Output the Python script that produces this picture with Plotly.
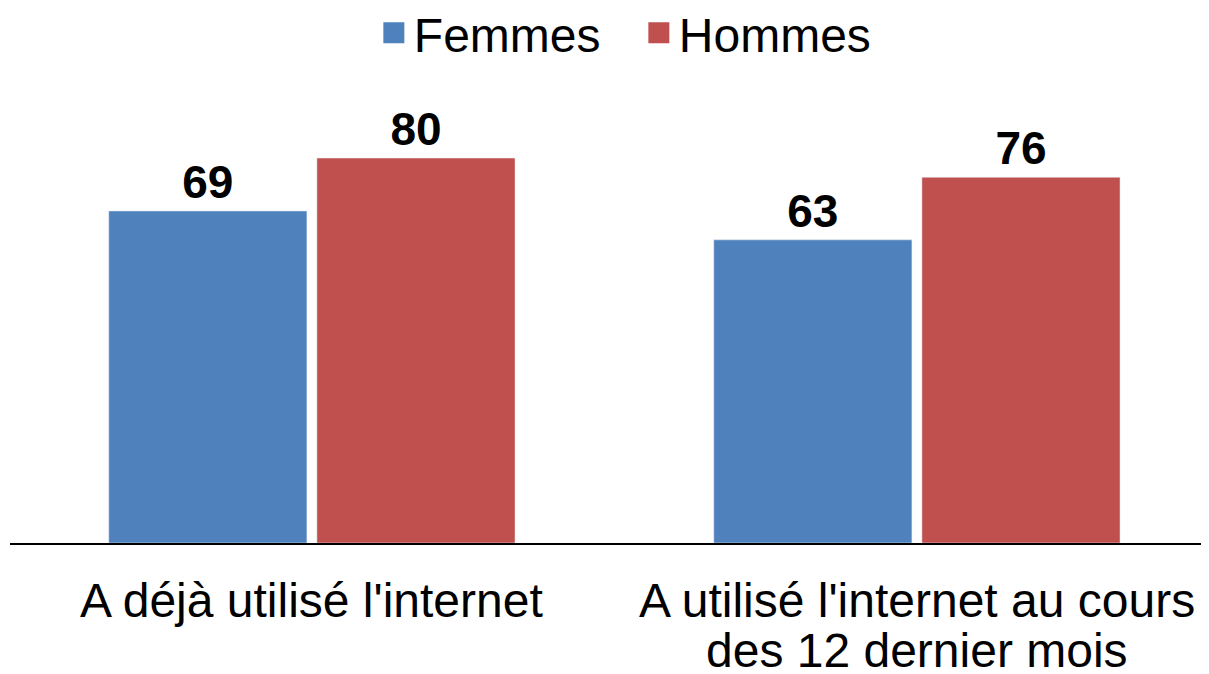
import plotly.graph_objects as go

categories = ["A déjà utilisé l'internet", "A utilisé l'internet au cours des 12 dernier mois"]
category_lines = [["A déjà utilisé l'internet"], ["A utilisé l'internet au cours", "des 12 dernier mois"]]
femmes = [69, 63]
hommes = [80, 76]

BLUE = "#4F81BD"
RED = "#C0504D"
FONT = "Liberation Sans, Arial, sans-serif"

fig = go.Figure()
fig.add_trace(go.Bar(
    name="Femmes", x=categories, y=femmes, marker_color=BLUE,
    text=femmes, textposition="outside", cliponaxis=False,
    textfont=dict(family=FONT, size=46, color="black", weight="bold"),
    showlegend=False,
))
fig.add_trace(go.Bar(
    name="Hommes", x=categories, y=hommes, marker_color=RED,
    text=hommes, textposition="outside", cliponaxis=False,
    textfont=dict(family=FONT, size=46, color="black", weight="bold"),
    showlegend=False,
))
# legend proxies with larger square swatches
for name, col in [("Femmes", BLUE), ("Hommes", RED)]:
    fig.add_trace(go.Scatter(
        name=name, x=[None], y=[None], mode="markers",
        marker=dict(symbol="square", size=25, color=col, line=dict(color=col, width=5)),
        showlegend=True,
    ))

# category labels, one annotation per line for tight line spacing
line_y = [-0.1226, -0.2283]
for cat, lines in zip(categories, category_lines):
    for i, txt in enumerate(lines):
        fig.add_annotation(
            x=cat, xref="x", y=line_y[i], yref="paper",
            text=txt, showarrow=False, xanchor="center", yanchor="middle",
            font=dict(family=FONT, size=48, color="black"),
        )

fig.update_layout(
    width=1209, height=674,
    margin=dict(l=2, r=0, t=62, b=139, autoexpand=False),
    paper_bgcolor="white", plot_bgcolor="white",
    barmode="group", bargap=0.312, bargroupgap=0.048,
    font=dict(family=FONT, color="black"),
    showlegend=True,
    legend=dict(
        orientation="h", x=0.521, xanchor="center", y=1.078, yanchor="middle",
        font=dict(family=FONT, size=48, color="black"),
        itemsizing="trace", traceorder="normal", entrywidth=220,
    ),
    xaxis=dict(
        range=[-0.499, 1.496], automargin=False,
        showline=True, linecolor="black", linewidth=2,
        showgrid=False, zeroline=False, ticks="", showticklabels=False,
    ),
    yaxis=dict(
        range=[0, 98.3], visible=False, showgrid=False, zeroline=False,
        automargin=False,
    ),
)

fig.write_html("out.html")
